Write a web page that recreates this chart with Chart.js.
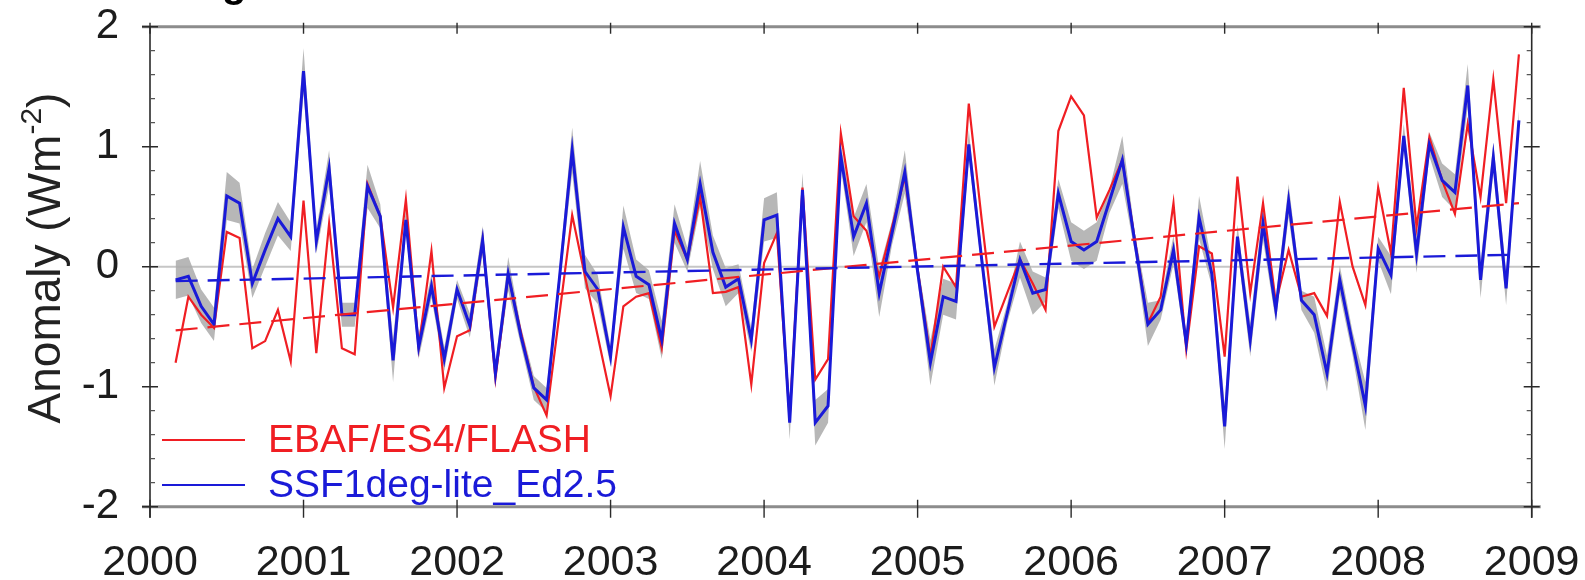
<!DOCTYPE html>
<html>
<head>
<meta charset="utf-8">
<script src="https://cdn.jsdelivr.net/npm/chart.js@4.4.1/dist/chart.umd.min.js"></script>
<style>
  html, body { margin: 0; padding: 0; background: #ffffff; }
  #c { display: block; }
</style>
</head>
<body>
<canvas id="c" width="1585" height="580"></canvas>
<script>
// ---------------- data ----------------
const startYear = 2000;
const startMonth = 3;           // first value is March 2000, monthly to Dec 2008
const seriesNames = ['EBAF/ES4/FLASH', 'SSF1deg-lite_Ed2.5'];
const yearTicks = [2000, 2001, 2002, 2003, 2004, 2005, 2006, 2007, 2008, 2009];
const valueTicks = [-2, -1, 0, 1, 2];

const ebaf = [
  -0.80, -0.25, -0.40, -0.51, 0.29, 0.24, -0.68, -0.62, -0.36, -0.79,
  0.55, -0.72, 0.36, -0.68, -0.73, 0.69, 0.42, -0.34, 0.56, -0.67, 0.13, -1.01,
  -0.58, -0.53, 0.22, -0.93, -0.07, -0.55, -1.00, -1.24, -0.40, 0.43, -0.08, -0.58,
  -1.08, -0.33, -0.25, -0.22, -0.68, 0.30, 0.06, 0.58, -0.22, -0.21, -0.17, -0.98,
  0.03, 0.28, -1.25, 0.66, -0.94, -0.77, 1.11, 0.42, 0.30, -0.08, 0.33, 0.75,
  -0.02, -0.75, 0.00, -0.17, 1.36, 0.40, -0.50, -0.22, 0.06, -0.14, -0.36, 1.13,
  1.42, 1.26, 0.41, 0.64, 0.89, 0.21, -0.47, -0.25, 0.53, -0.69, 0.17, 0.11,
  -0.75, 0.75, -0.22, 0.53, -0.30, 0.14, -0.25, -0.22, -0.41, 0.54, 0.00, -0.32,
  0.66, 0.11, 1.49, 0.33, 1.08, 0.72, 0.44, 1.19, 0.58, 1.56, 0.53, 1.77
];

const ssf = [
  -0.11, -0.08, -0.33, -0.48, 0.59, 0.53, -0.14, 0.14, 0.40, 0.25,
  1.63, 0.21, 0.82, -0.40, -0.40, 0.67, 0.42, -0.78, 0.39, -0.67, -0.16, -0.77,
  -0.19, -0.49, 0.22, -0.89, -0.06, -0.58, -1.01, -1.11, -0.10, 0.97, -0.04, -0.19,
  -0.75, 0.33, -0.08, -0.15, -0.61, 0.36, 0.06, 0.69, 0.12, -0.17, -0.10, -0.61,
  0.39, 0.43, -1.30, 0.64, -1.30, -1.16, 0.92, 0.25, 0.53, -0.22, 0.28, 0.79,
  -0.04, -0.80, -0.25, -0.29, 1.02, 0.07, -0.84, -0.39, 0.06, -0.22, -0.19, 0.61,
  0.21, 0.14, 0.21, 0.55, 0.89, 0.19, -0.48, -0.36, 0.14, -0.64, 0.41, -0.06,
  -1.33, 0.25, -0.61, 0.36, -0.36, 0.55, -0.28, -0.40, -0.89, -0.11, -0.64, -1.16,
  0.15, -0.07, 1.09, 0.11, 1.02, 0.72, 0.62, 1.51, -0.11, 0.91, -0.18, 1.22
];

// half-width of the grey spread around the SSF series
const ssfSpread = [
  0.16, 0.16, 0.14, 0.14, 0.20, 0.17, 0.12, 0.14, 0.14, 0.12,
  0.19, 0.10, 0.15, 0.10, 0.10, 0.18, 0.10, 0.18, 0.10, 0.10, 0.10, 0.10,
  0.08, 0.10, 0.12, 0.08, 0.14, 0.08, 0.10, 0.10, 0.08, 0.19, 0.14, 0.12,
  0.08, 0.18, 0.14, 0.12, 0.16, 0.16, 0.10, 0.19, 0.14, 0.16, 0.12, 0.10,
  0.18, 0.19, 0.14, 0.14, 0.19, 0.14, 0.10, 0.16, 0.16, 0.20, 0.10, 0.18,
  0.08, 0.19, 0.15, 0.15, 0.12, 0.08, 0.15, 0.08, 0.15, 0.18, 0.10, 0.12,
  0.16, 0.16, 0.16, 0.10, 0.20, 0.08, 0.18, 0.08, 0.12, 0.08, 0.18, 0.10,
  0.19, 0.10, 0.14, 0.14, 0.10, 0.14, 0.08, 0.15, 0.15, 0.12, 0.10, 0.20,
  0.10, 0.16, 0.10, 0.16, 0.10, 0.14, 0.15, 0.18, 0.15, 0.12, 0.14, 0.08
];

// linear trend lines: [start, end] years and values
const trendYears = [2000.167, 2008.917];
const ebafTrend = [-0.53, 0.53];
const ssfTrend = [-0.12, 0.10];

// ---------------- build ----------------
const t = ebaf.map((_, i) => startYear + (startMonth - 1 + i) / 12);
const pts = (arr) => arr.map((v, i) => ({ x: t[i], y: v }));
const RED = '#f01e23';
const BLUE = '#1a1ad8';

const FONT = "'Liberation Sans', Arial, sans-serif";

function noScalePadding(s) {
  s.paddingLeft = 0; s.paddingRight = 0; s.paddingTop = 0; s.paddingBottom = 0;
}

const framePlugin = {
  id: 'framePlugin',
  beforeDatasetsDraw(chart) {
    const { ctx, chartArea: a, scales: { y } } = chart;
    const y0 = y.getPixelForValue(0);
    ctx.save();
    ctx.strokeStyle = '#c6c6c6';
    ctx.lineWidth = 2;
    ctx.beginPath(); ctx.moveTo(a.left, y0); ctx.lineTo(a.right, y0); ctx.stroke();
    ctx.restore();
  },
  afterDatasetsDraw(chart) {
    const { ctx, chartArea: a, scales: { x, y } } = chart;
    ctx.save();
    // top & bottom frame (grey, thick)
    ctx.strokeStyle = '#8c8c8c';
    ctx.lineWidth = 3;
    ctx.beginPath();
    ctx.moveTo(a.left - 8, a.top); ctx.lineTo(a.right + 9, a.top);
    ctx.moveTo(a.left - 8, a.bottom); ctx.lineTo(a.right + 9, a.bottom);
    ctx.stroke();
    // left & right frame (dark)
    ctx.strokeStyle = '#2a2a2a';
    ctx.lineWidth = 1.6;
    ctx.beginPath();
    ctx.moveTo(a.left, a.top); ctx.lineTo(a.left, a.bottom + 11);
    ctx.moveTo(a.right, a.top); ctx.lineTo(a.right, a.bottom + 11);
    ctx.stroke();
    // y major ticks
    ctx.lineWidth = 1.4;
    ctx.beginPath();
    valueTicks.forEach(v => {
      const py = y.getPixelForValue(v);
      ctx.moveTo(a.left - 8, py); ctx.lineTo(a.left + 8, py);
      ctx.moveTo(a.right - 8, py); ctx.lineTo(a.right + 8, py);
    });
    ctx.stroke();
    // y minor ticks every 0.2
    ctx.strokeStyle = '#555';
    ctx.lineWidth = 1.2;
    ctx.beginPath();
    for (let k = -10; k <= 10; k++) {
      if (k % 5 === 0) continue;
      const py = y.getPixelForValue(k / 5);
      ctx.moveTo(a.left, py); ctx.lineTo(a.left + 5, py);
      ctx.moveTo(a.right - 5, py); ctx.lineTo(a.right, py);
    }
    ctx.stroke();
    // x year ticks
    ctx.strokeStyle = '#2a2a2a';
    ctx.lineWidth = 1.4;
    ctx.beginPath();
    yearTicks.forEach(yr => {
      const px = x.getPixelForValue(yr);
      ctx.moveTo(px, a.bottom - 7); ctx.lineTo(px, a.bottom + 11);
      ctx.moveTo(px, a.top - 4); ctx.lineTo(px, a.top + 7);
    });
    ctx.stroke();
    ctx.restore();
  },
  afterDraw(chart) {
    const { ctx } = chart;
    ctx.save();
    // legend
    const ds = chart.data.datasets;
    const items = [ds[2], ds[3]];
    const rows = [440, 485];
    items.forEach((d, i) => {
      ctx.strokeStyle = d.borderColor;
      ctx.lineWidth = 2.2;
      ctx.beginPath(); ctx.moveTo(162, rows[i]); ctx.lineTo(245, rows[i]); ctx.stroke();
      ctx.fillStyle = d.borderColor;
      ctx.font = "39px " + FONT;
      ctx.textBaseline = 'middle';
      ctx.textAlign = 'left';
      ctx.fillText(d.label, 268, rows[i] + 1);
    });
    // y-axis title with superscript
    ctx.fillStyle = '#222';
    const mainTxt = 'Anomaly (Wm', supTxt = '-2', endTxt = ')';
    const fMain = "46px " + FONT, fSup = "30px " + FONT;
    ctx.font = fMain; const w1 = ctx.measureText(mainTxt).width; const w3 = ctx.measureText(endTxt).width;
    ctx.font = fSup; const w2 = ctx.measureText(supTxt).width;
    const total = w1 + w2 + w3;
    ctx.translate(60, 258);
    ctx.rotate(-Math.PI / 2);
    ctx.textBaseline = 'alphabetic';
    ctx.textAlign = 'left';
    let sx = -total / 2;
    ctx.font = fMain; ctx.fillText(mainTxt, sx, 0); sx += w1;
    ctx.font = fSup; ctx.fillText(supTxt, sx, -19); sx += w2;
    ctx.font = fMain; ctx.fillText(endTxt, sx, 0);
    ctx.restore();
    // cropped heading remnant at the very top
    ctx.save();
    ctx.fillStyle = '#000';
    ctx.font = "bold 40px " + FONT;
    ctx.textBaseline = 'alphabetic';
    ctx.fillText('g', 222, -3);
    ctx.restore();
  }
};

new Chart(document.getElementById('c'), {
  type: 'line',
  data: {
    datasets: [
      { label: 'spread low', data: ssf.map((v, i) => ({ x: t[i], y: v - ssfSpread[i] })),
        borderWidth: 0, pointRadius: 0, fill: false, order: 10, tension: 0 },
      { label: 'spread high', data: ssf.map((v, i) => ({ x: t[i], y: v + ssfSpread[i] })),
        borderWidth: 0, pointRadius: 0, fill: '-1', backgroundColor: 'rgba(170,170,170,0.85)', order: 9, tension: 0 },
      { label: seriesNames[0], data: pts(ebaf), borderColor: RED, borderWidth: 2.2,
        pointRadius: 0, fill: false, order: 5, tension: 0 },
      { label: seriesNames[1], data: pts(ssf), borderColor: BLUE, borderWidth: 3,
        pointRadius: 0, fill: false, order: 4, tension: 0 },
      { label: 'EBAF trend', data: trendYears.map((yr, i) => ({ x: yr, y: ebafTrend[i] })),
        borderColor: RED, borderWidth: 2.2, borderDash: [22, 10], pointRadius: 0, fill: false, order: 2 },
      { label: 'SSF trend', data: trendYears.map((yr, i) => ({ x: yr, y: ssfTrend[i] })),
        borderColor: BLUE, borderWidth: 2.4, borderDash: [22, 10], pointRadius: 0, fill: false, order: 1 }
    ]
  },
  options: {
    responsive: false,
    animation: false,
    layout: { padding: { top: 26.7, right: 53.3, left: 0, bottom: 0 } },
    plugins: { legend: { display: false }, tooltip: { enabled: false }, title: { display: false } },
    scales: {
      x: {
        type: 'linear', min: 2000, max: 2009,
        afterFit(s) { s.height = 73.3; noScalePadding(s); },
        grid: { display: false, drawTicks: false },
        border: { display: false },
        ticks: { stepSize: 1, autoSkip: false, maxRotation: 0, padding: 31, color: '#1c1c1c',
                 font: { family: FONT, size: 43 }, callback: v => String(v) }
      },
      y: {
        min: -2, max: 2,
        afterFit(s) { s.width = 150; noScalePadding(s); },
        grid: { display: false, drawTicks: false },
        border: { display: false },
        ticks: { stepSize: 1, padding: 31, color: '#1c1c1c', font: { family: FONT, size: 42 } }
      }
    }
  },
  plugins: [framePlugin]
});
</script>
</body>
</html>
